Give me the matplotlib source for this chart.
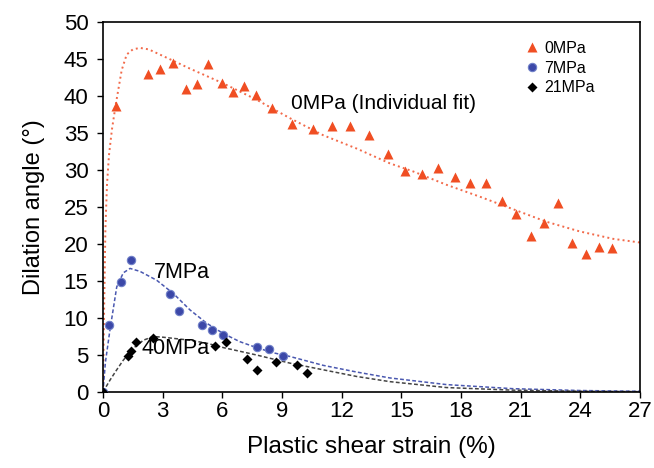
import numpy as np
import matplotlib
matplotlib.use('Agg')
from matplotlib import pyplot as plt

plt.rcParams['font.family'] = ['Liberation Sans', 'DejaVu Sans']

# Measured points (plastic shear strain %, dilation angle deg)
x0 = [0, 0.65, 2.28, 2.86, 3.53, 4.17, 4.74, 5.29, 5.96, 6.55, 7.1, 7.69, 8.48,
      9.51, 10.54, 11.49, 12.41, 13.38, 14.32, 15.18, 16.05, 16.85, 17.69, 18.47,
      19.28, 20.07, 20.75, 21.51, 22.18, 22.88, 23.6, 24.3, 24.92, 25.59]
y0 = [0, 38.6, 43.0, 43.6, 44.5, 41.0, 41.6, 44.3, 41.8, 40.6, 41.4, 40.1, 38.4,
      36.2, 35.6, 36.0, 35.9, 34.7, 32.2, 29.9, 29.4, 30.3, 29.0, 28.2,
      28.2, 25.8, 24.0, 21.1, 22.8, 25.5, 20.2, 18.6, 19.6, 19.5]

x7 = [0, 0.3, 0.89, 1.39, 3.37, 3.82, 4.96, 5.49, 6.01, 7.76, 8.34, 9.03]
y7 = [0, 9.05, 14.9, 17.9, 13.3, 10.9, 9.0, 8.4, 7.7, 6.1, 5.8, 4.9]

x21 = [0, 1.24, 1.41, 1.66, 2.5, 5.63, 6.16, 7.25, 7.76, 8.68, 9.73, 10.28]
y21 = [0, 4.9, 5.6, 6.7, 7.3, 6.2, 6.7, 4.5, 3.0, 4.0, 3.7, 2.6]

# Fitted curves
fx0 = [0, 0.06, 0.12, 0.2, 0.3, 0.45, 0.65, 0.94, 1.19, 1.5, 1.86, 2.3, 2.7, 3.5, 4.37,
       6.05, 7.72, 9.4, 11.07, 12.75, 14.42, 15.6, 17.27, 18.94, 20.62, 22.3,
       23.97, 25.64, 27]
fy0 = [0, 12, 22, 28, 32, 35.5, 39.0, 43.5, 45.6, 46.3, 46.5, 46.3, 45.8, 44.8, 43.7,
       41.7, 39.5, 37.0, 34.7, 32.9, 30.9, 29.8, 28.0, 26.4, 24.7, 23.0,
       21.7, 20.7, 20.2]

fx7 = [0, 0.12, 0.35, 0.69, 1.02, 1.36, 1.86, 2.7, 3.54, 4.37, 5.21, 6.05, 6.88,
       7.72, 8.56, 9.4, 11.07, 12.75, 14.42, 17.27, 20.6, 23.97, 27]
fy7 = [0, 4.0, 8.4, 14.2, 16.1, 16.7, 16.3, 15.1, 13.3, 11.1, 9.3, 7.9, 6.8,
       6.0, 5.3, 4.8, 3.6, 2.7, 1.9, 1.0, 0.45, 0.2, 0.1]

fx21 = [0, 0.35, 0.69, 1.02, 1.52, 2.03, 2.53, 3.03, 4.37, 5.21, 6.05, 7.72,
        9.4, 11.07, 12.75, 14.42, 17.27, 20.6, 24.0, 27]
fy21 = [0, 1.6, 3.0, 4.3, 5.9, 7.0, 7.5, 7.4, 7.0, 6.6, 6.0, 5.0,
        3.9, 3.0, 2.1, 1.4, 0.6, 0.25, 0.1, 0.05]

xticks = np.arange(0, 28, 3)
yticks = np.arange(0, 51, 5)

fig = plt.figure(figsize=(6.54, 4.68), dpi=100)
ax = fig.add_axes([0.1575, 0.1624, 0.8211, 0.7906])

ax.plot(fx0, fy0, ':', color='#f26a4a', lw=1.4, zorder=2)
ax.plot(fx7, fy7, '--', color='#4a58b0', lw=1.1, dashes=(2.5, 1.5), zorder=2)
ax.plot(fx21, fy21, '--', color='#444444', lw=1.1, dashes=(2.5, 1.5), zorder=2)

ax.plot(x0, y0, '^', color='#f04e23', ms=7.5, mec='none', ls='none', label='0MPa', zorder=3)
ax.plot(x7, y7, 'o', color='#3c48a8', ms=6, mec='#7080c8', mew=0.8, ls='none',
        label='7MPa', zorder=3)
ax.plot(x21, y21, 'D', color='black', ms=5, mec='none', ls='none', label='21MPa', zorder=3)

ax.text(9.45, 39.0, '0MPa (Individual fit)', fontsize=15, va='center', ha='left')
ax.text(2.55, 16.2, '7MPa', fontsize=15.5, va='center', ha='left')
ax.text(1.95, 5.9, '40MPa', fontsize=15.5, va='center', ha='left')

ax.set_xlim(0, 27)
ax.set_ylim(0, 50)
ax.set_xticks(xticks)
ax.set_yticks(yticks)
ax.tick_params(direction='out', length=4.5, width=1, labelsize=16, pad=2,
               top=False, right=False)
ax.tick_params(axis='y', pad=6)
for s in ax.spines.values():
    s.set_linewidth(1.2)

ax.set_xlabel('Plastic shear strain (%)', fontsize=17.5, labelpad=10)
ax.set_ylabel('Dilation angle (°)', fontsize=17, labelpad=13)

ax.legend(loc='upper left', bbox_to_anchor=(0.755, 0.988), frameon=False,
          fontsize=11.5, handletextpad=0.15, labelspacing=0.3, borderpad=0.4,
          handlelength=1.2)

plt.savefig('out.png', dpi=100)
